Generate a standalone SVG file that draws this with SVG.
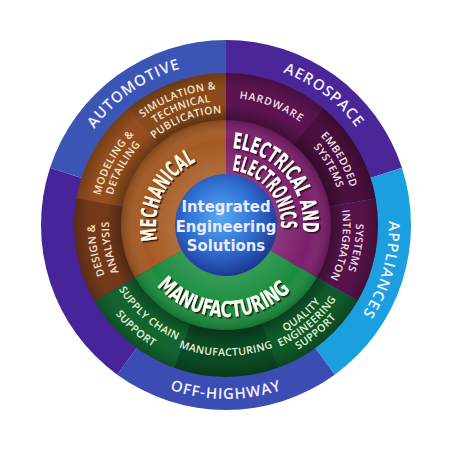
<svg xmlns="http://www.w3.org/2000/svg" width="450" height="450" viewBox="0 0 450 450">
<defs>
<style>
.outer{font-family:'Open Sans','DejaVu Sans',sans-serif;font-weight:600;font-size:15px;fill:#f1efff;letter-spacing:1px}
.sub{font-family:'Open Sans','DejaVu Sans',sans-serif;font-weight:600;font-size:10.5px;letter-spacing:0.4px}
.sb{fill:#f6e7d2}.sp{fill:#f1e2f0}.sg{fill:#e9f6dc}
.big{font-family:'Liberation Sans Narrow','DejaVu Sans Condensed','Liberation Sans',sans-serif;font-weight:bold;font-size:22px;filter:url(#sh)}
.ctr{font-family:'Liberation Sans Narrow','DejaVu Sans Condensed','Liberation Sans',sans-serif;font-weight:bold;font-size:16.5px;fill:#ecebff;text-anchor:middle}
</style>
<filter id="sh" x="-20%" y="-20%" width="140%" height="140%"><feDropShadow dx="1.5" dy="1.5" stdDeviation="0.4" flood-color="#1a0a05" flood-opacity="0.85"/></filter>
<radialGradient id="gCenter" cx="0.45" cy="0.42" r="0.62">
<stop offset="0" stop-color="#58aaf2"/><stop offset="0.55" stop-color="#2f6fd2"/><stop offset="1" stop-color="#1b2f8c"/>
</radialGradient>
<radialGradient id="gMid" gradientUnits="userSpaceOnUse" cx="226" cy="225" r="152">
<stop offset="0.69" stop-color="#000" stop-opacity="0.3"/><stop offset="0.79" stop-color="#000" stop-opacity="0"/><stop offset="0.9" stop-color="#000" stop-opacity="0"/><stop offset="1" stop-color="#000" stop-opacity="0.22"/>
</radialGradient>
<radialGradient id="gIn" gradientUnits="userSpaceOnUse" cx="226" cy="225" r="105">
<stop offset="0.48" stop-color="#fff" stop-opacity="0.12"/><stop offset="0.8" stop-color="#fff" stop-opacity="0"/><stop offset="1" stop-color="#000" stop-opacity="0.2"/>
</radialGradient>
<path id="tAuto" d="M63.62,239.21 A163,163 0 0 1 294.89,77.27"/>
<path id="tAero" d="M162.31,74.96 A163,163 0 0 1 387.79,244.86"/>
<path id="tAppl" d="M343.25,111.77 A163,163 0 0 1 265.43,383.16"/>
<path id="tOff" d="M75.31,312 A174,174 0 0 0 376.69,312"/>
<path id="tInd" d="M192.8,395.8 A174,174 0 0 0 94.68,110.85"/>
<path id="tSim1" d="M97.41,180.72 A136,136 0 0 1 291.93,106.05"/>
<path id="tSim2" d="M108.76,184.63 A124,124 0 0 1 286.12,116.55"/>
<path id="tSim3" d="M120.10,188.54 A112,112 0 0 1 280.30,127.04"/>
<path id="tMod1" d="M105.57,271.23 A129,129 0 0 1 201.39,98.37"/>
<path id="tMod2" d="M116.77,266.93 A117,117 0 0 1 203.68,110.15"/>
<path id="tDes1" d="M162.49,339.58 A131,131 0 0 1 124.19,142.56"/>
<path id="tDes2" d="M169.28,327.33 A117,117 0 0 1 135.07,151.37"/>
<path id="tHard" d="M164.43,113.92 A127,127 0 0 1 346.08,183.65"/>
<path id="tEmb1" d="M248.57,96.97 A130,130 0 0 1 348.16,269.46"/>
<path id="tEmb2" d="M246.32,109.78 A117,117 0 0 1 335.94,265.02"/>
<path id="tSys1" d="M325.59,141.44 A130,130 0 0 1 291,337.58"/>
<path id="tSys2" d="M315.63,149.79 A117,117 0 0 1 284.5,326.33"/>
<path id="tQ1" d="M204.81,345.15 A122,122 0 0 0 348,225"/>
<path id="tQ2" d="M202.90,355.98 A133,133 0 0 0 359,225"/>
<path id="tQ3" d="M200.99,366.81 A144,144 0 0 0 370,225"/>
<path id="tMfg" d="M125.65,309.21 A131,131 0 0 0 326.35,309.21"/>
<path id="tSup1" d="M101.02,222.82 A125,125 0 0 0 245.55,348.46"/>
<path id="tSup2" d="M84.02,222.52 A142,142 0 0 0 248.21,365.25"/>
<path id="tMech" d="M175.65,273.63 A70,70 0 0 1 233.32,155.38"/>
<path id="tEl1" d="M199.66,152.64 A77,77 0 0 1 292.68,263.5"/>
<path id="tEl2" d="M207.19,173.32 A55,55 0 0 1 273.63,252.5"/>
<path id="tMan" d="M138.50,253.43 A92,92 0 0 0 311.30,259.46"/>
</defs>
<rect width="450" height="450" fill="#fff"/>

<g id="outer-ring">
<g id="aerospace"><path d="M226,225 L226,40 A185,185 0 0 1 401.95,167.83 Z" fill="#4a2699"/>
<text class="outer" text-anchor="middle"><textPath href="#tAero" startOffset="50%">AEROSPACE</textPath></text></g>
<g id="appliances"><path d="M226,225 L401.95,167.83 A185,185 0 0 1 334.74,374.67 Z" fill="#1c9fe0"/>
<text class="outer" text-anchor="middle"><textPath href="#tAppl" startOffset="50%">APPLIANCES</textPath></text></g>
<g id="off-highway"><path d="M226,225 L334.74,374.67 A185,185 0 0 1 117.26,374.67 Z" fill="#3b4db3"/>
<text class="outer" text-anchor="middle"><textPath href="#tOff" startOffset="50%">OFF-HIGHWAY</textPath></text></g>
<g id="industrial-products"><path d="M226,225 L117.26,374.67 A185,185 0 0 1 50.05,167.83 Z" fill="#47249a"/>
<text class="outer" text-anchor="middle" style="letter-spacing:0.5px"><textPath href="#tInd" startOffset="50%">INDUSTRIAL PRODUCTS</textPath></text></g>
<g id="automotive"><path d="M226,225 L50.05,167.83 A185,185 0 0 1 226,40 Z" fill="#3b55b5"/>
<text class="outer" text-anchor="middle"><textPath href="#tAuto" startOffset="50%">AUTOMOTIVE</textPath></text></g>
</g>

<g id="mid-ring">
<path d="M226,225 L226,73 A152,152 0 0 1 323.70,108.56 Z" fill="#5c1450"/>
<path d="M226,225 L323.70,108.56 A152,152 0 0 1 375.69,198.61 Z" fill="#4a0f3e"/>
<path d="M226,225 L375.69,198.61 A152,152 0 0 1 357.64,301 Z" fill="#561349"/>
<path d="M226,225 L357.64,301 A152,152 0 0 1 277.99,367.83 Z" fill="#0f5a2a"/>
<path d="M226,225 L277.99,367.83 A152,152 0 0 1 174.01,367.83 Z" fill="#0b4a22"/>
<path d="M226,225 L174.01,367.83 A152,152 0 0 1 94.36,301 Z" fill="#13642f"/>
<path d="M226,225 L94.36,301 A152,152 0 0 1 76.31,198.61 Z" fill="#74391a"/>
<path d="M226,225 L76.31,198.61 A152,152 0 0 1 128.30,108.56 Z" fill="#954f1e"/>
<path d="M226,225 L128.30,108.56 A152,152 0 0 1 226,73 Z" fill="#8a4a1a"/>
<circle cx="226" cy="225" r="152" fill="url(#gMid)"/>
</g>

<g id="inner-ring">
<path id="mech-sector" d="M226,225 L135.07,277.5 A105,105 0 0 1 226,120 Z" fill="#a65a22"/>
<path id="elec-sector" d="M226,225 L226,120 A105,105 0 0 1 316.93,277.5 Z" fill="#7c1e6c"/>
<path id="manu-sector" d="M226,225 L316.93,277.5 A105,105 0 0 1 135.07,277.5 Z" fill="#1b8d3f"/>
<circle cx="226" cy="225" r="105" fill="url(#gIn)"/>
</g>

<g id="mechanical">
<text class="sub sb" text-anchor="middle"><textPath href="#tSim1" startOffset="50%">SIMULATION &amp;</textPath></text>
<text class="sub sb" text-anchor="middle"><textPath href="#tSim2" startOffset="50%">TECHNICAL</textPath></text>
<text class="sub sb" text-anchor="middle"><textPath href="#tSim3" startOffset="50%">PUBLICATION</textPath></text>
<text class="sub sb" text-anchor="middle"><textPath href="#tMod1" startOffset="50%">MODELING &amp;</textPath></text>
<text class="sub sb" text-anchor="middle"><textPath href="#tMod2" startOffset="50%">DETAILING</textPath></text>
<text class="sub sb" text-anchor="middle"><textPath href="#tDes1" startOffset="50%">DESIGN &amp;</textPath></text>
<text class="sub sb" text-anchor="middle"><textPath href="#tDes2" startOffset="50%">ANALYSIS</textPath></text>
<text class="big" text-anchor="middle" fill="#fff8ea"><textPath href="#tMech" startOffset="50%" textLength="94" lengthAdjust="spacingAndGlyphs">MECHANICAL</textPath></text>
</g>

<g id="electrical">
<text class="sub sp" text-anchor="middle" style="letter-spacing:1px"><textPath href="#tHard" startOffset="50%">HARDWARE</textPath></text>
<text class="sub sp" text-anchor="middle"><textPath href="#tEmb1" startOffset="50%">EMBEDDED</textPath></text>
<text class="sub sp" text-anchor="middle"><textPath href="#tEmb2" startOffset="50%">SYSTEMS</textPath></text>
<text class="sub sp" text-anchor="middle"><textPath href="#tSys1" startOffset="50%">SYSTEMS</textPath></text>
<text class="sub sp" text-anchor="middle"><textPath href="#tSys2" startOffset="50%">INTEGRATON</textPath></text>
<text class="big" text-anchor="middle" fill="#ffffff"><textPath href="#tEl1" startOffset="50%" textLength="122" lengthAdjust="spacingAndGlyphs">ELECTRICAL AND</textPath></text>
<text class="big" text-anchor="middle" fill="#ffffff"><textPath href="#tEl2" startOffset="50%" textLength="84" lengthAdjust="spacingAndGlyphs">ELECTRONICS</textPath></text>
</g>

<g id="manufacturing">
<text class="sub sg" text-anchor="middle"><textPath href="#tQ1" startOffset="50%">QUALITY</textPath></text>
<text class="sub sg" text-anchor="middle"><textPath href="#tQ2" startOffset="50%">ENGINEERING</textPath></text>
<text class="sub sg" text-anchor="middle"><textPath href="#tQ3" startOffset="50%">SUPPORT</textPath></text>
<text class="sub sg" text-anchor="middle"><textPath href="#tMfg" startOffset="50%">MANUFACTURING</textPath></text>
<text class="sub sg" text-anchor="middle"><textPath href="#tSup1" startOffset="50%">SUPPLY CHAIN</textPath></text>
<text class="sub sg" text-anchor="middle"><textPath href="#tSup2" startOffset="50%">SUPPORT</textPath></text>
<text class="big" text-anchor="middle" fill="#f4fff0"><textPath href="#tMan" startOffset="50%" textLength="150" lengthAdjust="spacingAndGlyphs">MANUFACTURING</textPath></text>
</g>

<g id="center">
<circle cx="226" cy="225" r="51" fill="url(#gCenter)"/>
<text class="ctr" x="226" y="212">Integrated</text>
<text class="ctr" x="226" y="231.5">Engineering</text>
<text class="ctr" x="226" y="251">Solutions</text>
</g>
<g id="connectors"/>
</svg>
